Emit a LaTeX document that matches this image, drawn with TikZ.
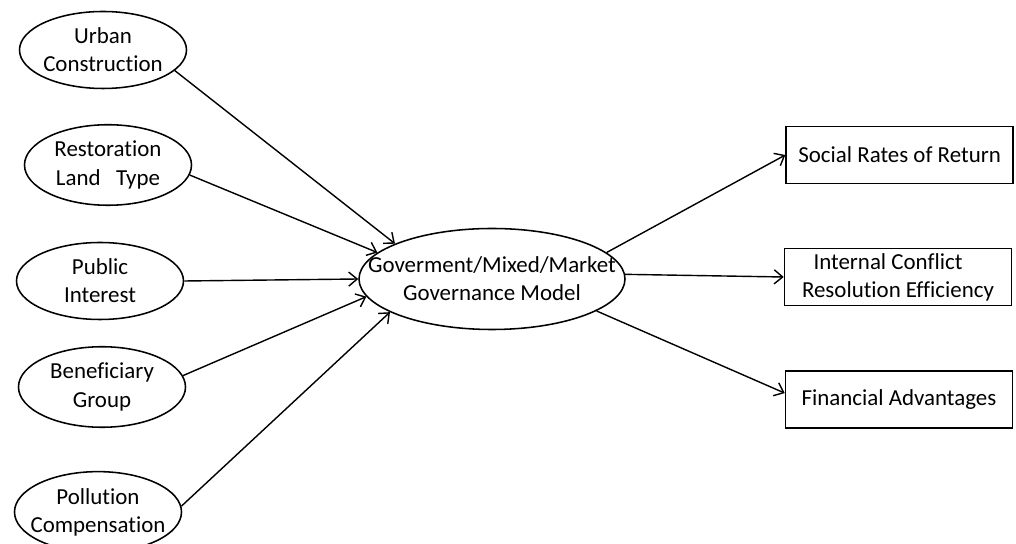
\documentclass[tikz,border=0pt]{standalone}
\usepackage{fontspec}
\setmainfont{Carlito}[Ligatures=NoCommon]
\usepackage{tikz}
\usetikzlibrary{shapes.geometric, arrows.meta, positioning}

\begin{document}
\begin{tikzpicture}[
    factor/.style={ellipse, draw, line width=1.1pt, minimum width=4.175cm, minimum height=1.925cm, inner xsep=-0.4cm, align=center, font=\fontsize{16.3}{20}\selectfont},
    model/.style={ellipse, draw, line width=1.1pt, minimum width=6.65cm, minimum height=2.525cm, inner xsep=-0.9cm, align=center, font=\fontsize{16.3}{20}\selectfont},
    outcome/.style={rectangle, draw, line width=1.1pt, minimum width=5.675cm, minimum height=1.425cm, align=center, font=\fontsize{16.3}{20}\selectfont},
    link/.style={line width=1pt, -{Straight Barb[length=6pt, width=10pt, line width=1pt]}}
]
    \useasboundingbox (0, 0) rectangle (25.4, 13.6);

    % Influencing factors
    \node[factor] (urban) at (2.575, 12.35) {Urban\\Construction};
    \node[factor] (land) at (2.70, 9.475) {Restoration\\Land~~~Type};
    \node[factor] (public) at (2.50, 6.575) {Public\\Interest};
    \node[factor] (benef) at (2.55, 3.925) {Beneficiary\\Group};
    \node[factor] (pollut) at (2.45, 0.80) {Pollution\\Compensation};

    % Center - governance model
    \node[model] (gov) at (12.30, 6.625) {Goverment/Mixed/Market\\Governance Model};

    % Outcomes
    \node[outcome] (social) at (22.49, 9.725) {Social Rates of Return};
    \node[outcome] (conflict) at (22.45, 6.675) {Internal Conflict\hspace*{0.5cm}\\Resolution Efficiency};
    \node[outcome] (finance) at (22.475, 3.6125) {Financial Advantages};

    % Arrows into the model
    \draw[link] (urban.-16) -- (gov.160);
    \draw[link] (land.-7) -- (gov.167);
    \draw[link] (public.east) -- (gov.180);
    \draw[link] (benef.8) -- (gov.188);
    \draw[link] (pollut.4) -- (gov.198);

    % Arrows out of the model
    \draw[link] (gov.13) -- (social.west);
    \draw[link] (gov.2) -- (conflict.west);
    \draw[link] (gov.-17) -- ([yshift=0.16cm]finance.west);
\end{tikzpicture}
\end{document}
